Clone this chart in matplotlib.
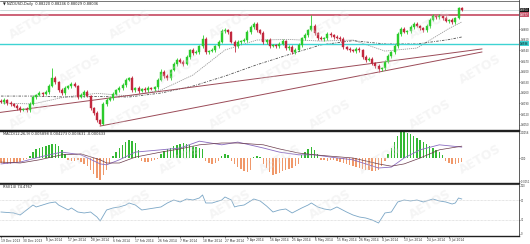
import matplotlib
matplotlib.use('Agg')
import matplotlib.pyplot as plt
import numpy as np

# NZDUSD daily bars, 19 Dec 2013 .. 9 Jul 2014
first_open = 0.8207
closes = [0.8200, 0.8213, 0.8193, 0.8187, 0.8173, 0.8160, 0.8147, 0.8154, 0.8147, 0.8187,
          0.8233, 0.8246, 0.8259, 0.8253, 0.8266, 0.8305, 0.8358, 0.8332, 0.8279, 0.8259,
          0.8292, 0.8305, 0.8319, 0.8305, 0.8233, 0.8246, 0.8266, 0.8239, 0.8160, 0.8127,
          0.8081, 0.8055, 0.8187, 0.8213, 0.8226, 0.8253, 0.8279, 0.8292, 0.8312, 0.8345,
          0.8358, 0.8279, 0.8292, 0.8272, 0.8286, 0.8279, 0.8292, 0.8286, 0.8299, 0.8345,
          0.8398, 0.8371, 0.8358, 0.8411, 0.8451, 0.8477, 0.8464, 0.8451, 0.8497, 0.8543,
          0.8523, 0.8530, 0.8569, 0.8616, 0.8530, 0.8536, 0.8543, 0.8569, 0.8596, 0.8668,
          0.8675, 0.8662, 0.8596, 0.8569, 0.8596, 0.8602, 0.8609, 0.8662, 0.8695, 0.8715,
          0.8675, 0.8655, 0.8596, 0.8609, 0.8569, 0.8576, 0.8569, 0.8583, 0.8602, 0.8556,
          0.8563, 0.8530, 0.8543, 0.8576, 0.8622, 0.8642, 0.8675, 0.8701, 0.8655, 0.8622,
          0.8616, 0.8622, 0.8649, 0.8642, 0.8629, 0.8622, 0.8616, 0.8563, 0.8550, 0.8543,
          0.8536, 0.8550, 0.8543, 0.8497, 0.8477, 0.8484, 0.8457, 0.8437, 0.8418, 0.8424,
          0.8464, 0.8503, 0.8530, 0.8569, 0.8649, 0.8682, 0.8662, 0.8668, 0.8695, 0.8715,
          0.8701, 0.8688, 0.8675, 0.8701, 0.8741, 0.8767, 0.8761, 0.8767, 0.8754, 0.8734,
          0.8741, 0.8728, 0.8754, 0.8822, 0.8804]
# wick lengths in pips above / below the body
up_wick = [10, 14, 8, 12, 9, 15, 11, 7, 13, 10, 12, 9, 14, 8, 11, 16, 66, 12, 9, 10,
           13, 8, 15, 11, 9, 12, 10, 14, 8, 9, 11, 7, 12, 15, 10, 13, 9, 11, 14, 12,
           10, 16, 9, 12, 8, 11, 13, 10, 9, 14, 18, 10, 12, 9, 15, 11, 13, 10, 12, 9,
           14, 11, 10, 26, 12, 9, 11, 10, 13, 15, 12, 10, 9, 14, 11, 8, 12, 10, 16, 13,
           11, 10, 14, 9, 12, 10, 8, 13, 11, 9, 12, 10, 14, 11, 9, 13, 10, 73, 12, 9,
           11, 10, 13, 12, 9, 10, 14, 11, 9, 12, 10, 13, 11, 9, 12, 10, 14, 9, 11, 10,
           12, 13, 9, 11, 15, 12, 10, 9, 13, 11, 12, 10, 9, 14, 12, 11, 10, 13, 9, 12,
           10, 11, 9, 3, 3]
dn_wick = [9, 12, 10, 14, 8, 11, 13, 9, 10, 12, 8, 11, 9, 13, 10, 12, 9, 11, 14, 10,
           12, 9, 11, 8, 13, 10, 12, 9, 11, 14, 10, 10, 10, 12, 9, 11, 8, 13, 10, 12,
           9, 11, 10, 14, 9, 12, 10, 8, 11, 13, 9, 12, 10, 11, 8, 13, 9, 12, 10, 11,
           14, 9, 12, 10, 11, 13, 9, 12, 10, 8, 11, 12, 9, 40, 10, 12, 9, 11, 13, 10,
           12, 9, 11, 10, 14, 8, 12, 10, 9, 13, 11, 10, 12, 9, 13, 10, 11, 8, 12, 10,
           9, 13, 11, 10, 12, 9, 11, 14, 10, 12, 9, 11, 13, 10, 12, 9, 11, 10, 20, 12,
           10, 9, 11, 13, 10, 12, 9, 11, 10, 12, 9, 11, 10, 13, 12, 9, 11, 10, 12, 9,
           11, 10, 12, 8, 1]

ma_idx = [0, 10, 20, 30, 40, 50, 60, 70, 80, 90, 100, 110, 120, 130, 140, 144]
ma_fast = [0.8193, 0.8187, 0.8233, 0.8257, 0.8240, 0.8279, 0.8378, 0.8543,
           0.8609, 0.8613, 0.8602, 0.8609, 0.8536, 0.8556, 0.8685, 0.8728]
ma_slow = [0.8239, 0.8239, 0.8233, 0.8236, 0.8233, 0.8259, 0.8305, 0.8371,
           0.8446, 0.8513, 0.8577, 0.8605, 0.8583, 0.8583, 0.8612, 0.8629]

trend_a_idx = [-0.3, 150.3]
trend_a = [0.8131, 0.8550]
trend_b_idx = [31, 150.3]
trend_b = [0.8041, 0.8530]
resistance = 0.8777
support = 0.8586
bid = 0.8804

price_ticks = [0.8680, 0.8610, 0.8540, 0.8470, 0.8400, 0.8330, 0.8260, 0.8190, 0.8120, 0.8050]

hist = [-0.0011, -0.0013, -0.0013, -0.0013, -0.0011, -0.0011, -0.0009, -0.0004, -0.0002, 0.0004,
        0.0013, 0.0020, 0.0022, 0.0024, 0.0026, 0.0029, 0.0031, 0.0031, 0.0026, 0.0018,
        0.0009, -0.0004, -0.0007, -0.0007, -0.0004, -0.0009, -0.0013, -0.0018, -0.0026, -0.0035,
        -0.0044, -0.0048, -0.0037, -0.0026, -0.0013, 0.0004, 0.0013, 0.0022, 0.0029, 0.0035,
        0.0040, 0.0037, 0.0033, 0.0018, -0.0007, -0.0009, -0.0009, -0.0007, -0.0004, -0.0002,
        0.0009, 0.0015, 0.0020, 0.0022, 0.0026, 0.0029, 0.0031, 0.0033, 0.0031, 0.0029,
        0.0026, 0.0024, 0.0022, 0.0020, -0.0007, -0.0011, -0.0013, -0.0011, -0.0007, 0.0004,
        0.0009, 0.0007, -0.0007, -0.0013, -0.0020, -0.0024, -0.0029, -0.0031, -0.0026, 0.0002,
        0.0004, 0.0002, -0.0013, -0.0022, -0.0031, -0.0037, -0.0035, -0.0033, -0.0029, -0.0026,
        -0.0024, -0.0022, -0.0018, -0.0013, 0.0007, 0.0013, 0.0020, 0.0024, 0.0018, 0.0009,
        -0.0004, -0.0004, -0.0007, -0.0004, -0.0004, -0.0007, -0.0009, -0.0011, -0.0013, -0.0015,
        -0.0018, -0.0020, -0.0022, -0.0024, -0.0026, -0.0026, -0.0029, -0.0029, -0.0026, -0.0018,
        -0.0007, 0.0009, 0.0022, 0.0035, 0.0048, 0.0057, 0.0057, 0.0055, 0.0053, 0.0048,
        0.0044, 0.0040, 0.0035, 0.0031, 0.0026, 0.0022, 0.0018, 0.0013, 0.0007, -0.0007,
        -0.0011, -0.0013, -0.0013, -0.0011, -0.0009]
macd_idx = [0, 6, 12, 19, 25, 31, 33, 37, 42, 50, 56, 62, 69, 74, 82, 87, 93, 98, 103,
            110, 118, 122, 126, 131, 137, 144]
macd_main = [-0.0013, -0.0009, 0.0002, 0.0013, 0.0007, -0.0013, -0.0015, -0.0004, 0.0013,
             0.0018, 0.0022, 0.0037, 0.0029, 0.0035, 0.0022, 0.0013, 0.0007, 0.0007, 0.0002,
             -0.0004, -0.0022, -0.0020, 0.0000, 0.0018, 0.0029, 0.0024]
macd_signal = [-0.0009, -0.0011, -0.0004, 0.0007, 0.0009, -0.0004, -0.0011, -0.0011, 0.0002,
               0.0013, 0.0020, 0.0029, 0.0033, 0.0033, 0.0029, 0.0020, 0.0011, 0.0007, 0.0004,
               0.0000, -0.0013, -0.0018, -0.0013, 0.0000, 0.0018, 0.0026]

rsi_idx = [0, 4, 6, 8, 10, 11, 13, 15, 17, 18, 21, 22, 24, 26, 28, 30, 31, 33, 35, 37,
           39, 40, 42, 44, 46, 48, 50, 52, 54, 56, 58, 60, 62, 63, 64, 66, 67, 69, 70, 72,
           73, 74, 76, 79, 81, 83, 85, 87, 89, 91, 94, 96, 97, 99, 101, 103, 105, 108, 110,
           112, 114, 116, 118, 120, 122, 124, 126, 128, 130, 132, 135, 137, 139, 141, 142,
           143, 144]
rsi = [45.8, 43.8, 39.6, 50.0, 60.4, 56.3, 60.4, 64.6, 66.7, 60.4, 50.0, 54.2, 45.8, 43.8,
       45.8, 35.4, 27.1, 50.0, 54.2, 56.3, 60.4, 64.6, 60.4, 50.0, 52.1, 54.2, 56.3, 64.6,
       70.8, 66.7, 72.9, 70.8, 75.0, 81.3, 64.6, 64.6, 66.7, 70.8, 77.1, 70.8, 56.3, 58.3,
       60.4, 72.9, 68.8, 58.3, 45.8, 50.0, 52.1, 43.8, 54.2, 60.4, 64.6, 56.3, 52.1, 50.0,
       56.3, 45.8, 39.6, 35.4, 33.3, 29.2, 22.9, 43.8, 45.8, 66.7, 70.8, 68.8, 70.8, 66.7,
       72.9, 68.8, 66.7, 62.5, 64.6, 75.0, 72.9]

date_idx = [0, 7, 14, 21, 28, 35, 42, 49, 56, 63, 70, 77, 84, 91, 98, 105, 112, 119, 126, 133, 140]
date_labels = ['19 Dec 2013', '30 Dec 2013', '8 Jan 2014', '17 Jan 2014', '28 Jan 2014',
               '6 Feb 2014', '17 Feb 2014', '26 Feb 2014', '7 Mar 2014', '18 Mar 2014',
               '27 Mar 2014', '7 Apr 2014', '16 Apr 2014', '25 Apr 2014', '6 May 2014',
               '15 May 2014', '26 May 2014', '4 Jun 2014', '13 Jun 2014', '24 Jun 2014',
               '3 Jul 2014']

W, H = 530, 244
fig = plt.figure(figsize=(W / 100, H / 100), dpi=100)
fig.patch.set_facecolor('white')
right = 519 / W
ax = fig.add_axes([0, 1 - 130 / H, right, 129.5 / H])
axm = fig.add_axes([0, 1 - 183 / H, right, 52.5 / H])
axr = fig.add_axes([0, 1 - 236 / H, right, 52.5 / H])

xlim = (-0.31, 161.9)
for a in (ax, axm, axr):
    a.set_xlim(*xlim)
    a.spines['left'].set_visible(False)
    a.spines['right'].set_color('#404040')
    a.spines['right'].set_linewidth(0.6)
    a.spines['top'].set_color('#404040')
    a.spines['bottom'].set_color('#202020')
    a.spines['bottom'].set_linewidth(1.0)
    a.yaxis.tick_right()
    a.tick_params(axis='y', labelsize=1.8, length=1.0, width=0.4, pad=0.4, colors='#333333')
    a.tick_params(axis='x', bottom=False, labelbottom=False)
ax.spines['top'].set_linewidth(0.5)

# candles
x = np.arange(len(closes))
o = np.array([first_open] + closes[:-1])
c = np.array(closes)
hi = np.maximum(o, c) + np.array(up_wick) * 1e-4
lo = np.minimum(o, c) - np.array(dn_wick) * 1e-4
col = np.where(c >= o, '#2ccb2c', '#c2283e')
ax.vlines(x, lo, hi, colors=col, lw=0.6, zorder=3)
ax.bar(x, c - o, bottom=o, width=0.62, color=col, edgecolor=col, lw=0.3, zorder=3)

ax.plot(ma_idx, ma_fast, color='#9a9a9a', lw=0.6, ls=(0, (1.5, 1)), zorder=2)
ax.plot(ma_idx, ma_slow, color='#505050', lw=0.6, ls=(0, (3, 1.5, 1, 1.5)), zorder=2)
ax.plot(trend_a_idx, trend_a, color='#9b4b58', lw=0.7, zorder=2)
ax.plot(trend_b_idx, trend_b, color='#9b4b58', lw=0.7, zorder=2)
ax.axhline(resistance, color='#c9566c', lw=1.3, zorder=2)
ax.axhline(support, color='#3fd3d3', lw=1.0, zorder=2)
ax.axhline(bid, color='#b6cccc', lw=0.5, zorder=1)
ax.set_ylim(0.8015, 0.8870)
ax.set_yticks(price_ticks)
ax.set_yticklabels(['%.4f' % v for v in price_ticks])

for val, fc, tc in ((bid, '#101010', 'white'), (resistance, '#c9566c', 'white'), (support, '#3fd3d3', 'black')):
    ax.annotate('%.4f' % val, xy=(1.0, val), xycoords=('axes fraction', 'data'),
                xytext=(0.8, 0), textcoords='offset points', fontsize=1.8, color=tc,
                va='center', ha='left', annotation_clip=False,
                bbox=dict(boxstyle='square,pad=0.1', fc=fc, ec='none'))

# MACD window
hcol = ['#33b833' if v >= 0 else '#f0986a' for v in hist]
axm.bar(x, hist, width=0.45, color=hcol, lw=0)
axm.plot(macd_idx, macd_main, color='#8a6cc0', lw=0.6)
axm.plot(macd_idx, macd_signal, color='#6a3a4a', lw=0.5)
axm.set_ylim(-0.0055, 0.00605)
axm.set_yticks([0.0055, 0.0, -0.0051])
axm.set_yticklabels(['0.0056', '0.00', '-0.0051'])
axm.spines['top'].set_linewidth(1.0)
axm.spines['top'].set_color('#202020')

# RSI window
axr.plot(rsi_idx, rsi, color='#7aa6c6', lw=0.6)
for lvl in (70, 30):
    axr.axhline(lvl, color='#cccccc', lw=0.5, ls=(0, (1, 1)))
axr.set_ylim(-4.2, 105.2)
axr.set_yticks([100, 70, 30, 0])
axr.set_yticklabels(['100', '70', '30', '0'])
axr.set_xticks(date_idx)
axr.set_xticklabels(date_labels, ha='left')
axr.tick_params(axis='x', bottom=True, labelbottom=True, labelsize=2.2, length=1.2,
                width=0.4, pad=0.6, colors='#333333')

fig.text(3 / W, 1 - 4 / H, '\u25bc NZDUSD,Daily  0.88220 0.88246 0.88029 0.88036',
         fontsize=2.6, va='center', ha='left', color='#222222')
fig.text(3 / W, 1 - 134 / H, 'MACD(12,26,9) 0.005898 0.004273 0.003631 -0.000633',
         fontsize=2.6, va='center', ha='left', color='#222222')
fig.text(3 / W, 1 - 187 / H, 'RSI(14) 74.4767', fontsize=2.6, va='center', ha='left',
         color='#222222')

# AETOS watermark, kept inside the picture
for row, yy in enumerate(range(24, 230, 45)):
    for xx in range(30 + (row % 2) * 50, 510, 100):
        fig.text(xx / W, 1 - yy / H, 'AETOS', rotation=30, fontsize=9, color='#dedede',
                 alpha=0.3, fontweight='bold', ha='center', va='center')

fig.savefig('out.png', dpi=100)
